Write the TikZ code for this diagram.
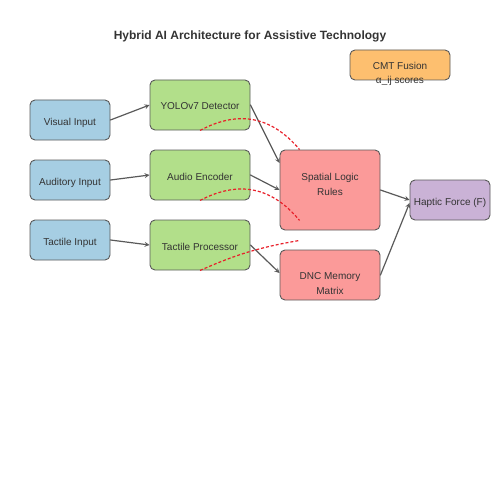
\documentclass[tikz,border=0pt]{standalone}
\usepackage{fontspec}
\setmainfont{Liberation Sans}
\usetikzlibrary{positioning}
\definecolor{inblue}{HTML}{A6CEE3}
\definecolor{procgreen}{HTML}{B2DF8A}
\definecolor{logicred}{HTML}{FB9A99}
\definecolor{fuseorange}{HTML}{FDBF6F}
\definecolor{outpurple}{HTML}{CAB2D6}
\definecolor{edgegray}{HTML}{5A5A5A}
\definecolor{txtgray}{HTML}{333333}
\definecolor{attred}{HTML}{E8202A}
\begin{document}
\begin{tikzpicture}[x=1pt, y=-1pt, font=\fontsize{10}{15}\selectfont, line join=round, line cap=round, >=stealth,
		box/.style={draw=edgegray, line width=0.9pt, rounded corners=5pt, text=txtgray, align=center, inner sep=0pt, text height=11pt, text depth=1pt},
		smallbox/.style={box, minimum width=80pt, minimum height=40pt},
		widebox/.style={box, minimum width=100pt, minimum height=50pt},
		twoline/.style={text=txtgray, align=center, text depth=0pt},
		flow/.style={->, draw=edgegray, line width=1.2pt},
		attn/.style={draw=attred, line width=1.2pt, dash pattern=on 3pt off 2pt, line cap=butt}]
			\useasboundingbox (0,0) rectangle (500,500);
			\node [font=\fontsize{12}{14}\selectfont\bfseries, text=txtgray] (title) at (250,36) {Hybrid AI Architecture for Assistive Technology};
			% inputs
			\node [smallbox, fill=inblue] (visual) at (70,120) {Visual Input};
			\node [smallbox, fill=inblue] (auditory) at (70,180) {Auditory Input};
			\node [smallbox, fill=inblue] (tactile) at (70,240) {Tactile Input};
			% encoders
			\node [widebox, fill=procgreen] (yolo) at (200,105) {YOLOv7 Detector};
			\node [widebox, fill=procgreen] (audenc) at (200,175) {Audio Encoder};
			\node [widebox, fill=procgreen] (tacproc) at (200,245) {Tactile Processor};
			% reasoning
			\node [widebox, fill=logicred, minimum height=80pt, label={[twoline, yshift=6.1pt]center:Spatial Logic\\Rules}] (spatial) at (330,190) {};
			\node [widebox, fill=logicred, label={[twoline, yshift=-8.9pt]center:DNC Memory\\Matrix}] (dnc) at (330,275) {};
			\node [smallbox, fill=outpurple] (haptic) at (450,200) {Haptic Force (F)};
			\node [widebox, fill=fuseorange, minimum height=30pt] (cmt) at (400,65) {CMT Fusion};
			\node [anchor=base, text=txtgray] (alpha) at (400,84) {α\_ij scores};
			% flows
			\draw[flow] (visual.east)--(yolo.west);
			\draw[flow] (auditory.east)--(audenc.west);
			\draw[flow] (tactile.east)--(tacproc.west);
			\draw[flow] (yolo.east)--([yshift=27pt]spatial.west);
			\draw[flow] (audenc.east)--(spatial.west);
			\draw[flow] (tacproc.east)--([yshift=2pt]dnc.west);
			\draw[flow] (spatial.east)--(haptic.west);
			\draw[flow] (dnc.east)--([yshift=-3pt]haptic.west);
			% attention links
			\coordinate (att1) at ([xshift=20pt]spatial.north west);
			\coordinate (att2) at ([xshift=20pt, yshift=10pt]spatial.south west);
			\coordinate (att3) at ([xshift=20pt, yshift=-10pt]spatial.south west);
			\draw[attn] (yolo.south) to[bend left=39, looseness=1.1] (att1);
			\draw[attn] (audenc.south) to[bend left=39, looseness=1.1] (att2);
			\draw[attn] (tacproc.south) to[bend left=7] (att3);
		\end{tikzpicture}
\end{document}
